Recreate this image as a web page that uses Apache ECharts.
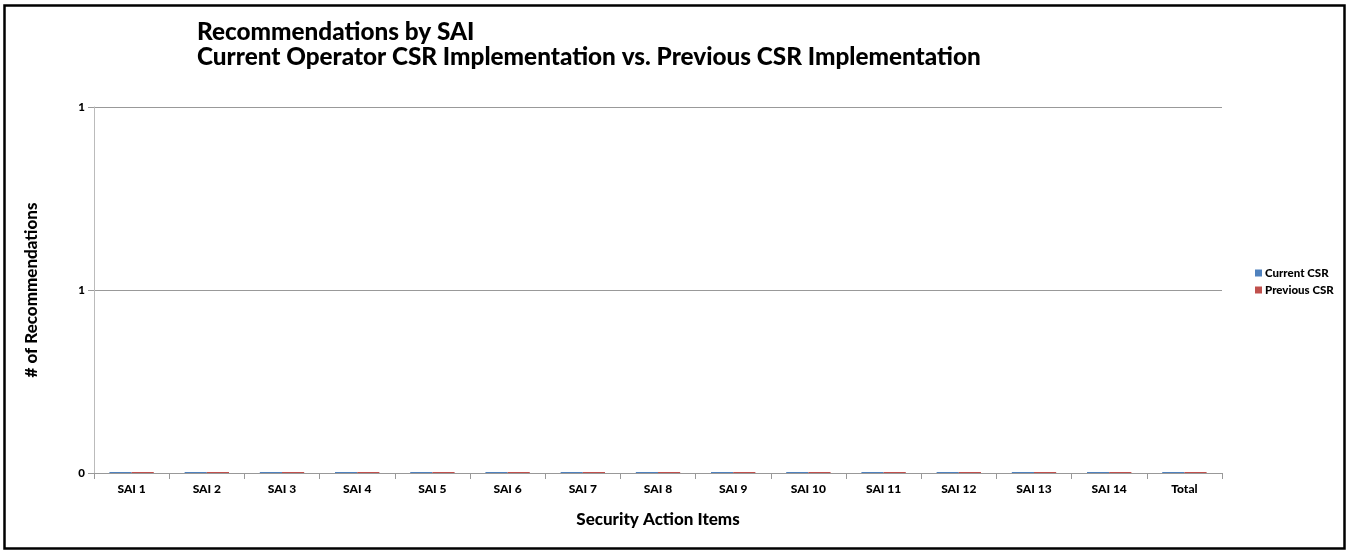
<!DOCTYPE html>
<html>
<head>
<meta charset="utf-8">
<script src="https://cdn.jsdelivr.net/npm/echarts@6/dist/echarts.min.js"></script>
<style>
  html, body { margin: 0; padding: 0; background: #fff; }
  #chart { width: 1348px; height: 551px; }
</style>
</head>
<body>
<div id="chart"></div>
<script>
const categories = ['SAI 1', 'SAI 2', 'SAI 3', 'SAI 4', 'SAI 5', 'SAI 6', 'SAI 7',
  'SAI 8', 'SAI 9', 'SAI 10', 'SAI 11', 'SAI 12', 'SAI 13', 'SAI 14', 'Total'];
const currentCSR = [0, 0, 0, 0, 0, 0, 0, 0, 0, 0, 0, 0, 0, 0, 0];
const previousCSR = [0, 0, 0, 0, 0, 0, 0, 0, 0, 0, 0, 0, 0, 0, 0];

const font = 'Lato, "Open Sans", sans-serif';
const chart = echarts.init(document.getElementById('chart'));

chart.setOption({
  animation: false,
  title: {
    text: 'Recommendations by SAI\nCurrent Operator CSR Implementation vs. Previous CSR Implementation',
    left: 192,
    top: 15,
    textStyle: { fontFamily: font, fontSize: 24.3, fontWeight: 900, color: '#000', lineHeight: 24.5 }
  },
  legend: {
    orient: 'vertical',
    left: 1250,
    top: 262,
    itemWidth: 7,
    itemHeight: 7,
    itemGap: 5,
    icon: 'rect',
    textStyle: { fontFamily: font, fontSize: 11.5, fontWeight: 900, color: '#000', padding: [0, 0, 0, -2] },
    data: ['Current CSR', 'Previous CSR']
  },
  grid: { left: 94, right: 126, top: 107, bottom: 78 },
  xAxis: {
    type: 'category',
    data: categories,
    name: 'Security Action Items',
    nameLocation: 'middle',
    nameGap: 38,
    nameTextStyle: { fontFamily: font, fontSize: 17, fontWeight: 900, color: '#000' },
    axisLine: { lineStyle: { color: '#999', width: 1 } },
    axisTick: { show: true, length: 6, lineStyle: { color: '#999' } },
    axisLabel: { fontFamily: font, fontSize: 12, fontWeight: 900, color: '#000', margin: 10 }
  },
  yAxis: {
    type: 'value',
    min: 0,
    max: 1,
    interval: 0.5,
    name: '# of Recommendations',
    nameLocation: 'middle',
    nameGap: 54,
    nameTextStyle: { fontFamily: font, fontSize: 17, fontWeight: 900, color: '#000' },
    axisLine: { show: true, lineStyle: { color: '#bbb', width: 1 } },
    axisTick: { show: true, length: 6, lineStyle: { color: '#999' } },
    axisLabel: {
      fontFamily: font, fontSize: 11.5, fontWeight: 900, color: '#000', margin: 9,
      formatter: v => String(Math.round(v))
    },
    splitLine: { lineStyle: { color: '#999', width: 1 } }
  },
  series: [
    {
      name: 'Current CSR',
      type: 'bar',
      data: currentCSR,
      barGap: '0%',
      barCategoryGap: '41%',
      barMinHeight: 1,
      itemStyle: { color: '#4f81bd' }
    },
    {
      name: 'Previous CSR',
      type: 'bar',
      data: previousCSR,
      barMinHeight: 1,
      itemStyle: { color: '#c0504d' }
    }
  ],
  graphic: [{
    type: 'rect',
    shape: { x: 4.5, y: 5.5, width: 1340, height: 543 },
    style: { fill: 'none', stroke: '#000', lineWidth: 2.5 },
    silent: true
  }]
});
</script>
</body>
</html>
